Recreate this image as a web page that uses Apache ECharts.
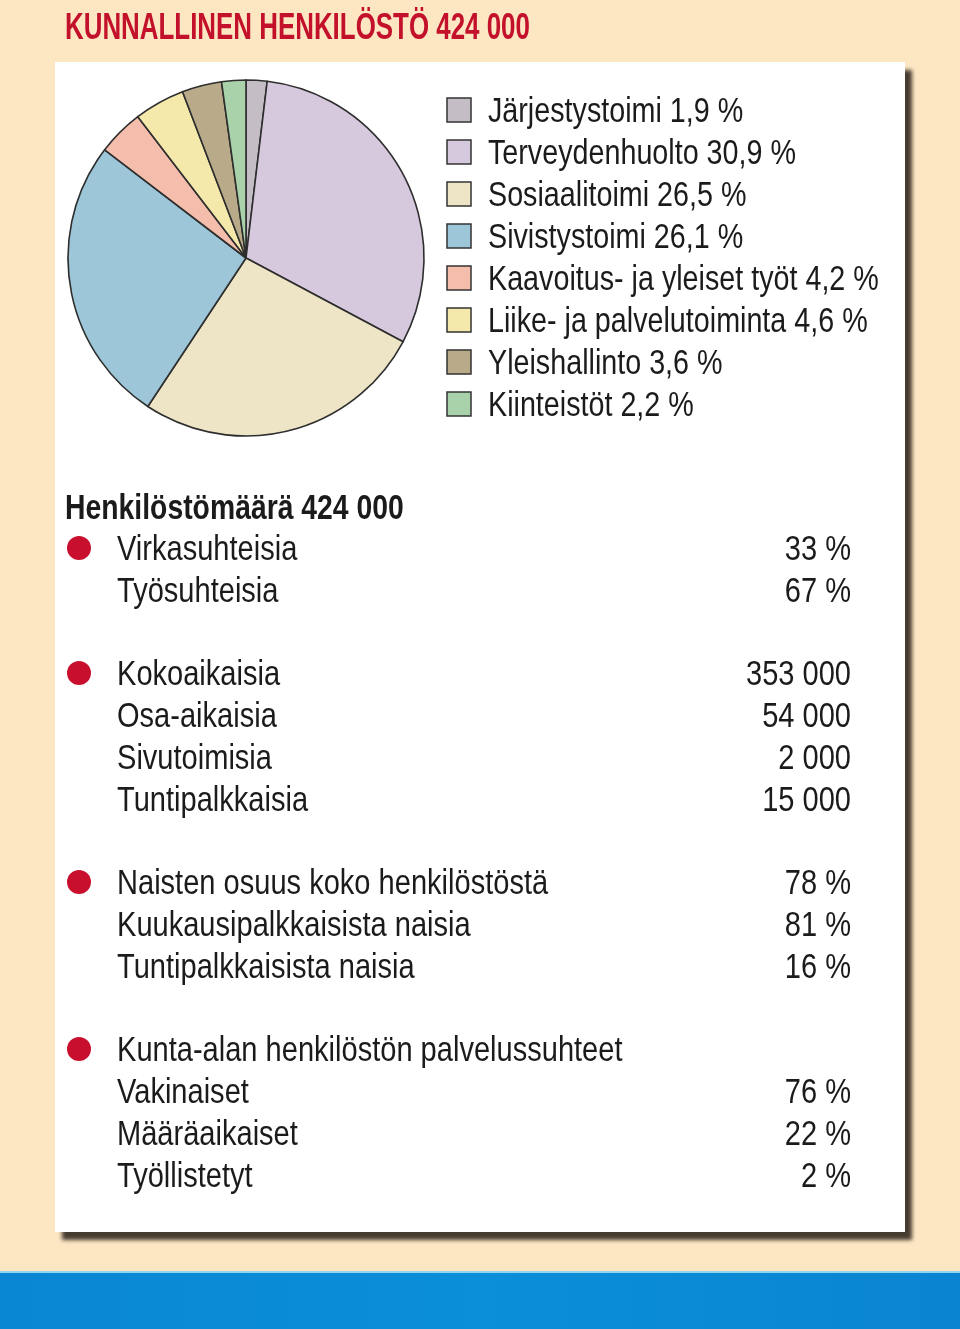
<!DOCTYPE html>
<html><head><meta charset="utf-8">
<script src="https://cdn.jsdelivr.net/npm/echarts@6/dist/echarts.min.js"></script>
<style>html,body{margin:0;padding:0;background:#fde7c3}#c{width:960px;height:1329px}</style>
</head><body><div id="c"></div>
<script>
// ---- data ----
const chartTitle = 'KUNNALLINEN HENKILÖSTÖ 424 000';
const sectors = ['Järjestystoimi','Terveydenhuolto','Sosiaalitoimi','Sivistystoimi','Kaavoitus- ja yleiset työt','Liike- ja palvelutoiminta','Yleishallinto','Kiinteistöt'];
const shares = [1.9, 30.9, 26.5, 26.1, 4.2, 4.6, 3.6, 2.2];
const staffHeading = 'Henkilöstömäärä 424 000';
const contractLabels = ['Virkasuhteisia','Työsuhteisia'];
const contractValues = ['33 %','67 %'];
const workTimeLabels = ['Kokoaikaisia','Osa-aikaisia','Sivutoimisia','Tuntipalkkaisia'];
const workTimeValues = ['353 000','54 000','2 000','15 000'];
const womenLabels = ['Naisten osuus koko henkilöstöstä','Kuukausipalkkaisista naisia','Tuntipalkkaisista naisia'];
const womenValues = ['78 %','81 %','16 %'];
const serviceLabels = ['Kunta-alan henkilöstön palvelussuhteet','Vakinaiset','Määräaikaiset','Työllistetyt'];
const serviceValues = ['','76 %','22 %','2 %'];

// ---- styles ----
const sectorColors = ['#c5bdc6','#d6c9dd','#ede5c6','#9dc7d8','#f5bdab','#f4e8aa','#b9ab8a','#a9d1aa'];
const SX = 0.82;
const FONT = '35px "Liberation Sans", Arial, sans-serif';
const TXT = '#1b1b1b';

const chart = echarts.init(document.getElementById('c'), null, {renderer:'canvas'});
const g = [];
function txt(x, y, s, opts) {
  opts = opts || {};
  const al = opts.align || 'left';
  g.push({type:'text', x:x, y:y + 2, scaleX: opts.sx || SX, z: 10,
    style:{text:s, x:0, y:0, font: opts.font || FONT, fill: opts.fill || TXT,
      align: al, textAlign: al, verticalAlign:'middle', textVerticalAlign:'middle'}});
}
// background pieces
g.push({type:'rect', z:0, shape:{x:0,y:1272,width:960,height:57},
  style:{fill:{type:'linear',x:0,y:0,x2:1,y2:0,colorStops:[{offset:0,color:'#0a86d2'},{offset:0.5,color:'#0b8fd8'},{offset:1,color:'#0a84d0'}]}}});
g.push({type:'rect', z:0, shape:{x:0,y:1271,width:960,height:2}, style:{fill:'#8fd6f2'}});
g.push({type:'rect', z:1, shape:{x:55,y:62,width:850,height:1170},
  style:{fill:'#ffffff', shadowColor:'rgba(60,50,40,0.95)', shadowBlur:4, shadowOffsetX:7, shadowOffsetY:8}});
// title
txt(65, 27, chartTitle, {font:'bold 37px "Liberation Sans", Arial, sans-serif', fill:'#c3112b', sx:0.70});
// legend
sectors.forEach((name, i) => {
  const cy = 110 + i * 42;
  g.push({type:'rect', z:10, shape:{x:447, y:cy-12, width:24, height:24},
    style:{fill:sectorColors[i], stroke:'#333333', lineWidth:1.5}});
  txt(488, cy, name + ' ' + shares[i].toFixed(1).replace('.', ',') + ' %');
});
// statistics
txt(65, 507, staffHeading, {font:'bold 35px "Liberation Sans", Arial, sans-serif', sx:0.81});
const groups = [[contractLabels, contractValues],[workTimeLabels, workTimeValues],[womenLabels, womenValues],[serviceLabels, serviceValues]];
let y0 = 548;
groups.forEach(([labs, vals]) => {
  g.push({type:'circle', z:10, shape:{cx:79, cy:y0, r:12}, style:{fill:'#c8102e'}});
  labs.forEach((l, j) => {
    const cy = y0 + j * 42;
    txt(117, cy, l, {sx:0.83});
    if (vals[j]) txt(851, cy, vals[j], {align:'right', sx:0.83});
  });
  y0 += (labs.length - 1) * 42 + 83;
});

chart.setOption({
  backgroundColor:'#fde7c3',
  animation:false,
  series:[{
    type:'pie', center:[246,258], radius:178, startAngle:90, clockwise:true,
    label:{show:false}, labelLine:{show:false}, silent:true, z:5,
    itemStyle:{borderColor:'#2e2e2e', borderWidth:1.6},
    data: sectors.map((n, i) => ({name:n, value:shares[i], itemStyle:{color:sectorColors[i]}}))
  }],
  graphic: g
});
</script></body></html>
